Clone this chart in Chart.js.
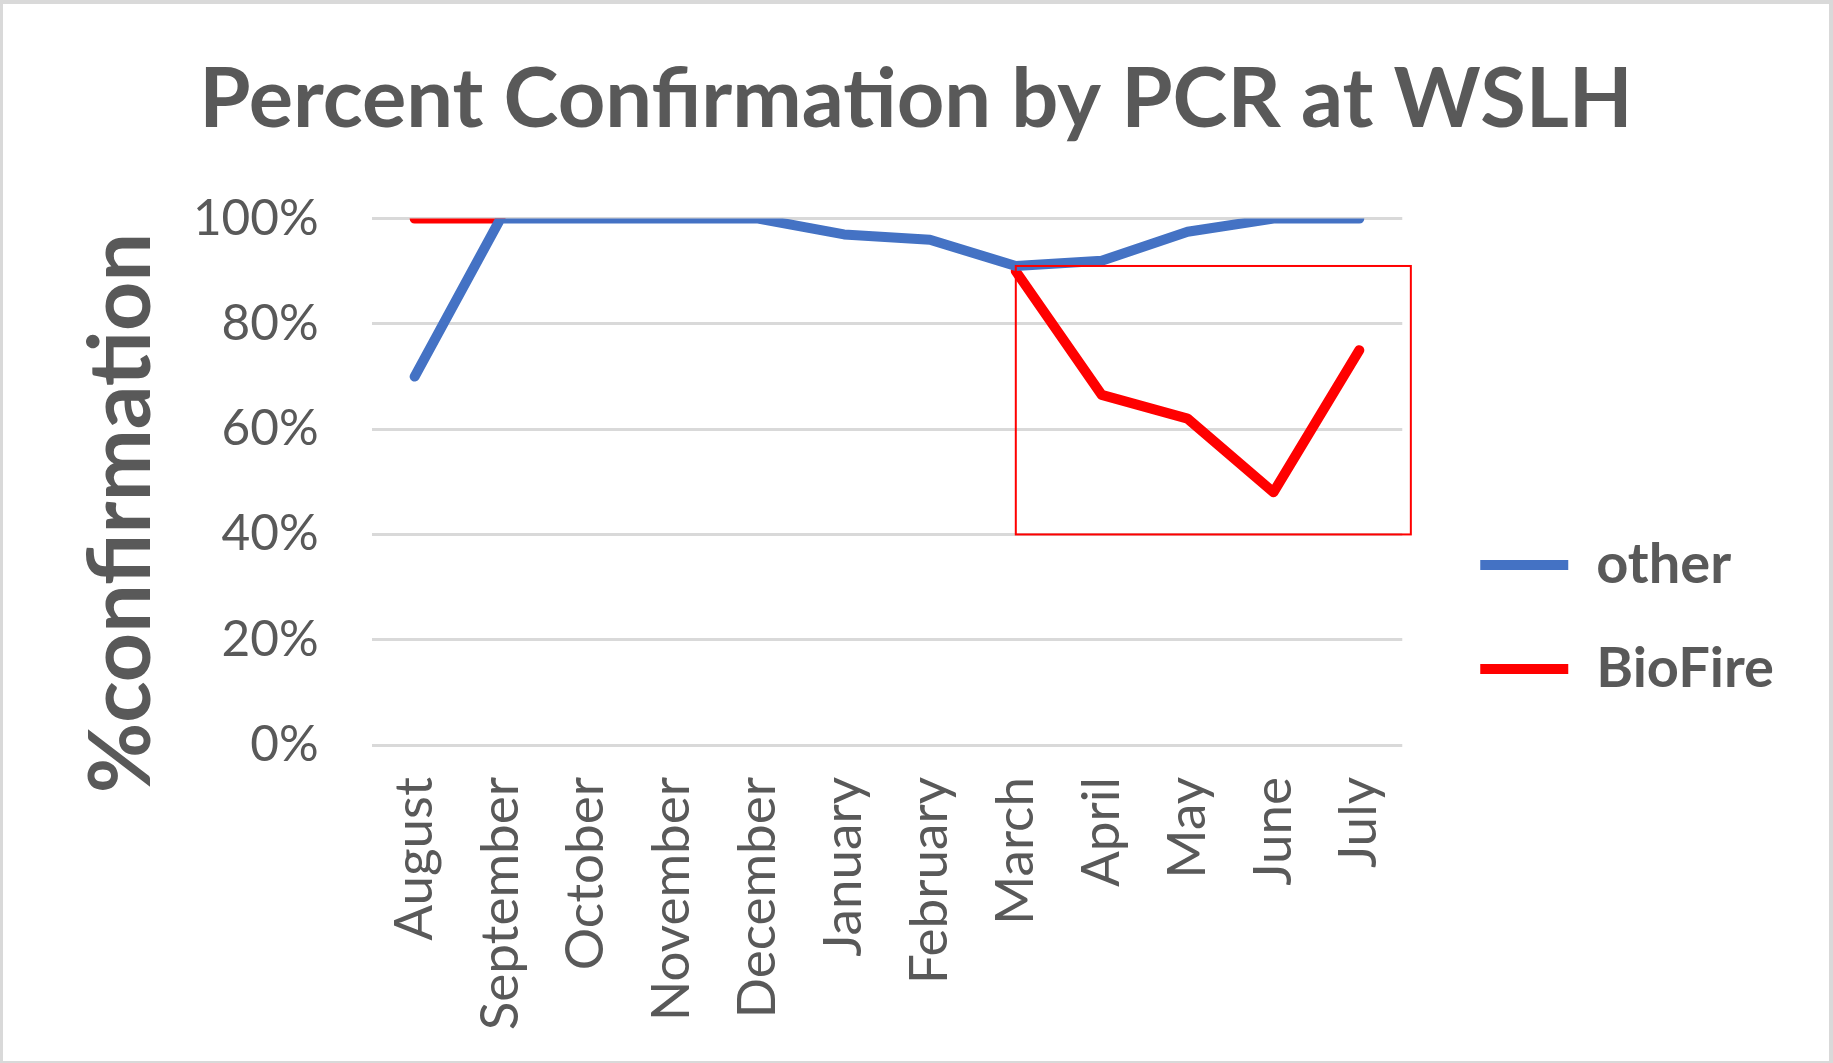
<!DOCTYPE html>
<html>
<head>
<meta charset="utf-8">
<script src="https://cdn.jsdelivr.net/npm/chart.js@4"></script>
<style>
  html, body { margin: 0; padding: 0; background: #fff; }
  #wrap {
    width: 1833px; height: 1063px; box-sizing: border-box;
    border-style: solid; border-color: #d9d9d9;
    border-width: 4px 4px 2px 3px;
  }
</style>
</head>
<body>
<div id="wrap"><canvas id="chart"></canvas></div>
<script>
const months = ["August", "September", "October", "November", "December", "January",
  "February", "March", "April", "May", "June", "July"];
const other = [70, 100, 100, 100, 100, 97, 96, 91, 92, 97.5, 100, 100];
const biofire = [100, 100, null, null, null, null, null, 90, 66.5, 62, 48, 75];
const yTicks = [0, 20, 40, 60, 80, 100];

// highlighted region: March..past July, 91% down to 40%
const boxFrom = 7, boxTo = 11.6, boxTop = 91, boxBottom = 40;

const grey = "#595959";
const font = "Lato";

const boxPlugin = {
  id: "box",
  afterDatasetsDraw(chart) {
    const { ctx, scales: { x, y } } = chart;
    const step = x.getPixelForValue(1) - x.getPixelForValue(0);
    const x0 = x.getPixelForValue(boxFrom);
    const x1 = x.getPixelForValue(Math.floor(boxTo)) + (boxTo % 1) * step;
    const y0 = y.getPixelForValue(boxTop);
    const y1 = y.getPixelForValue(boxBottom);
    ctx.save();
    ctx.strokeStyle = "#ff0000";
    ctx.lineWidth = 2;
    ctx.strokeRect(x0, y0, x1 - x0, y1 - y0);
    ctx.restore();
  }
};

const line = { borderWidth: 10, borderCapStyle: "round", borderJoinStyle: "round", pointRadius: 0 };

new Chart(document.getElementById("chart"), {
  type: "line",
  data: {
    labels: months,
    datasets: [
      { label: "other", data: other, borderColor: "#4472c4", backgroundColor: "#4472c4", ...line },
      { label: "BioFire", data: biofire, borderColor: "#ff0000", backgroundColor: "#ff0000", ...line }
    ]
  },
  options: {
    responsive: true,
    maintainAspectRatio: false,
    animation: false,
    events: [],
    layout: { padding: { left: 45, right: 45, top: 0, bottom: 0 } },
    plugins: {
      title: {
        display: true,
        text: "Percent Confirmation by PCR at WSLH",
        color: grey,
        font: { family: font, size: 83, weight: "bold" },
        padding: { top: 46, bottom: 69 }
      },
      legend: {
        position: "right",
        align: "end",
        fullSize: false,
        labels: {
          color: grey,
          font: { family: font, size: 56, weight: "bold" },
          usePointStyle: true,
          pointStyle: "line",
          pointStyleWidth: 88,
          padding: 48
        }
      },
      tooltip: { enabled: false }
    },
    scales: {
      x: {
        offset: true,
        afterFit(s) { s.height = 316; },
        grid: { display: false },
        border: { display: false },
        ticks: {
          color: grey, font: { family: font, size: 53 },
          minRotation: 90, maxRotation: 90, padding: 24, autoSkip: false
        }
      },
      y: {
        min: 0, max: 100,
        afterFit(s) { s.width = 323.7; },
        afterBuildTicks(s) { s.ticks = yTicks.map(v => ({ value: v })); },
        grid: { color: "#d9d9d9", lineWidth: 3, drawTicks: false },
        border: { display: false },
        ticks: {
          color: grey, font: { family: font, size: 49.5 }, padding: 53,
          callback: v => v + "%"
        },
        title: {
          display: true,
          text: "%confirmation   ",
          color: grey,
          font: { family: font, size: 86, weight: "bold" },
          padding: { top: 23 }
        }
      },
      // hidden spacer between plot and legend
      gap: {
        type: "linear",
        position: "right",
        display: false,
        afterFit(s) { s.width = 30; }
      }
    }
  },
  plugins: [boxPlugin]
});
</script>
</body>
</html>
